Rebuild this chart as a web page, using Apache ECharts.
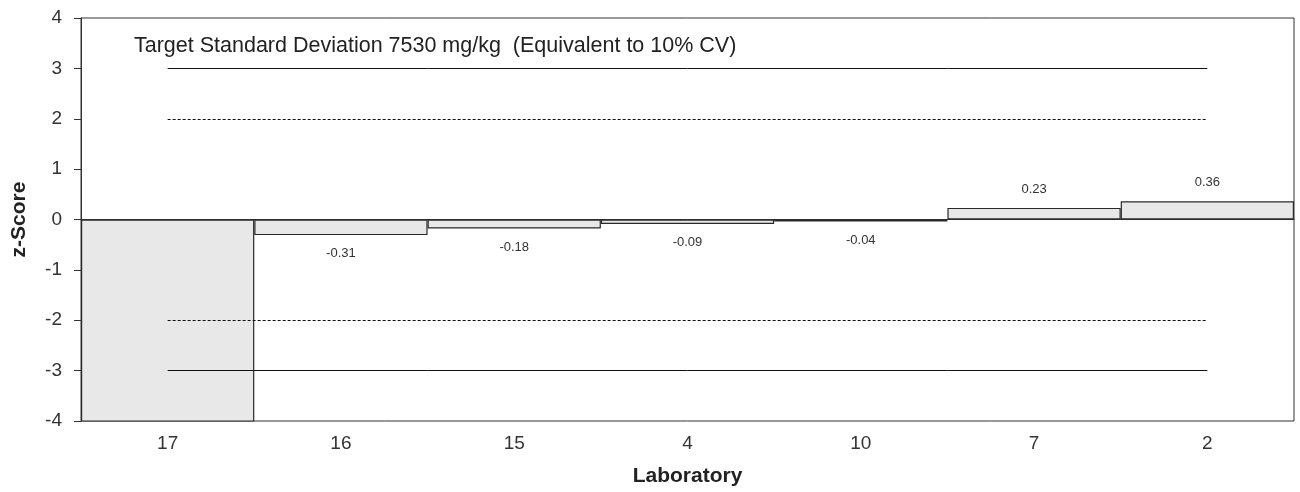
<!DOCTYPE html>
<html>
<head>
<meta charset="utf-8">
<script src="https://cdn.jsdelivr.net/npm/echarts@6/dist/echarts.min.js"></script>
<style>html,body{margin:0;padding:0;background:#fff;}#c{width:1300px;height:492px;}</style>
</head>
<body>
<div id="c"></div>
<script>
const categories = ['17', '16', '15', '4', '10', '7', '2'];
const zScores = [-6.5, -0.31, -0.18, -0.09, -0.04, 0.23, 0.36];
const actionLimits = [3, -3];
const warningLimits = [2, -2];
const yTicks = [-4, -3, -2, -1, 0, 1, 2, 3, 4];
const note = 'Target Standard Deviation 7530 mg/kg  (Equivalent to 10% CV)';

const FONT = '"Liberation Sans", Arial, sans-serif';
const chart = echarts.init(document.getElementById('c'), null, {renderer: 'canvas'});

const barData = zScores.map((v, i) => ({
  value: v,
  label: {
    show: v >= -4,
    position: v < 0 ? 'bottom' : 'top'
  }
}));

const lineData = [];
actionLimits.forEach(y => lineData.push([
  {coord: [categories[0], y], lineStyle: {type: 'solid'}},
  {coord: [categories[categories.length - 1], y]}
]));
warningLimits.forEach(y => lineData.push([
  {coord: [categories[0], y], lineStyle: {type: [3, 2]}},
  {coord: [categories[categories.length - 1], y]}
]));

chart.setOption({
  animation: false,
  textStyle: {fontFamily: FONT},
  title: {
    text: note,
    left: 129, top: 30,
    textStyle: {fontFamily: FONT, fontSize: 21.5, fontWeight: 'normal', color: '#222'}
  },
  grid: {
    left: 81, right: 6, top: 18, bottom: 71,
    containLabel: false,
    outerBoundsMode: 'none',
    show: true, borderColor: '#333', borderWidth: 1, backgroundColor: 'transparent'
  },
  xAxis: {
    type: 'category',
    data: categories,
    name: 'Laboratory',
    nameLocation: 'middle',
    nameGap: 45,
    nameTextStyle: {fontFamily: FONT, fontSize: 21, fontWeight: 'bold', color: '#222'},
    axisLine: {onZero: true, lineStyle: {color: '#333', width: 1}},
    axisTick: {show: false},
    axisLabel: {fontFamily: FONT, fontSize: 19, color: '#333', margin: 13}
  },
  yAxis: {
    type: 'value',
    min: yTicks[0], max: yTicks[yTicks.length - 1], interval: 1,
    name: 'z-Score',
    nameLocation: 'middle',
    nameGap: 51,
    nameTextStyle: {fontFamily: FONT, fontSize: 21, fontWeight: 'bold', color: '#222'},
    axisLine: {show: true, lineStyle: {color: '#333', width: 1}},
    axisTick: {show: true, length: 7, lineStyle: {color: '#333'}},
    axisLabel: {fontFamily: FONT, fontSize: 19, color: '#333', margin: 19},
    splitLine: {show: false}
  },
  series: [{
    type: 'bar',
    data: barData,
    barCategoryGap: '0%',
    clip: true,
    itemStyle: {color: '#e8e8e8', borderColor: '#2a2a2a', borderWidth: 1.2},
    label: {
      fontFamily: FONT, fontSize: 13, color: '#333', distance: 12,
      formatter: p => p.value.toFixed(2)
    },
    markLine: {
      silent: true,
      symbol: 'none',
      label: {show: false},
      lineStyle: {color: '#111', width: 1},
      data: lineData
    }
  }]
});
</script>
</body>
</html>
